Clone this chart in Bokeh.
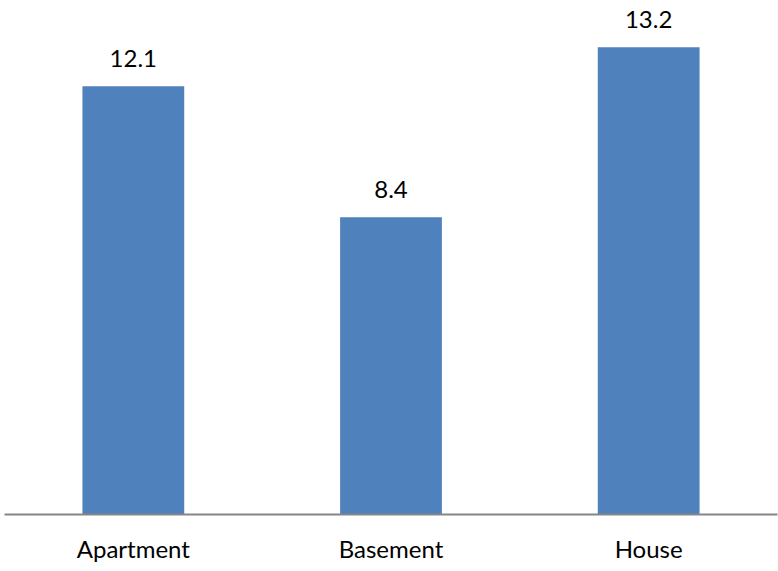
from bokeh.plotting import figure
from bokeh.models import ColumnDataSource, LabelSet, Range1d
from bokeh.core.properties import value
from bokeh.embed import file_html
from bokeh.resources import INLINE

categories = ["Apartment", "Basement", "House"]
values = [12.1, 8.4, 13.2]
labels = ["12.1", "8.4", "13.2"]

src = ColumnDataSource(dict(cat=categories, val=values, lab=labels))

p = figure(x_range=categories, y_range=Range1d(0, 14.52), width=778, height=571,
           output_backend="svg", toolbar_location=None,
           min_border_left=4, min_border_right=1, min_border_top=0, min_border_bottom=57)
p.outline_line_color = None
p.vbar(x="cat", top="val", width=0.395, source=src, color="#4F81BD", line_color=None)
p.add_layout(LabelSet(x="cat", y="val", text="lab", source=src, text_align="center",
                      text_baseline="alphabetic", y_offset=19, text_font_size="24px",
                      text_font=value("Lato"), text_color="#000000"))
p.yaxis.visible = False
p.xgrid.grid_line_color = None
p.ygrid.grid_line_color = None
p.xaxis.axis_line_color = "#868686"
p.xaxis.axis_line_width = 2
p.xaxis.major_tick_line_color = None
p.xaxis.minor_tick_line_color = None
p.xaxis.major_label_text_font = "Lato"
p.xaxis.major_label_text_font_size = "24px"
p.xaxis.major_label_text_color = "#000000"
p.xaxis.major_label_standoff = 13
p.x_range.range_padding = 0

open("out.html", "w").write(file_html(p, INLINE))
